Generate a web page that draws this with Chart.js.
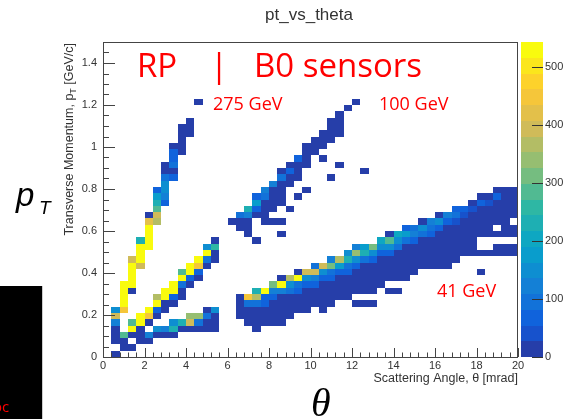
<!DOCTYPE html>
<html>
<head>
<meta charset="utf-8">
<script src="https://cdn.jsdelivr.net/npm/chart.js@4.4.1/dist/chart.umd.min.js"></script>
<style>
  html, body { margin: 0; padding: 0; background: #fff; }
  canvas { display: block; }
</style>
</head>
<body>
<canvas id="ptVsTheta" width="569" height="419"></canvas>
<script>
// pt_vs_theta histogram, 50 x 50 bins
const thetaRange = [0, 20];      // mrad
const ptRange = [0, 1.5];        // GeV/c
const xBinWidth = 0.4;
const yBinWidth = 0.03;
const zMax = 543;
const nLevels = 20;
const zTickValues = [0, 100, 200, 300, 400, 500];

// one char per bin = contour level of the bin content ('.' = empty)
const levelChars = '0123456789abcdefghij';

// [theta bin, first pT bin, levels going up in pT]
const rpCells = [
  [1, 0, '0'], [1, 2, '0004e5'],
  [2, 1, '00a'], [2, 7, 'gjjjj'],
  [3, 1, '0'], [3, 3, '0ja'], [3, 10, '0jjjje'],
  [4, 2, '000jj'], [4, 14, 'ejjj8'],
  [5, 2, '04'], [5, 5, '0gj'], [5, 17, 'jjjjf0'],
  [6, 3, '05'], [6, 6, '02jd'], [6, 21, 'dea862'],
  [7, 3, '04'], [7, 7, '00jj'], [7, 24, '2455300'],
  [8, 3, '085'], [8, 8, '02jj'], [8, 28, '203220'],
  [9, 4, '08'], [9, 9, '003ja'], [9, 32, '00000'],
  [10, 4, '0ec'], [10, 11, '02jj'], [10, 35, '000'],
  [11, 4, '03c'], [11, 12, '02gj'], [11, 40, '0'],
  [12, 4, '0030'], [12, 14, '03j5'],
  [13, 4, '0005'], [13, 15, '0090']
];

const b0Upper = [
  [15, 21, '0'],
  [16, 20, '003'],
  [17, 19, '00048'],
  [18, 18, '0'], [18, 22, '0262'],
  [19, 21, '000034'],
  [20, 21, '0'], [20, 23, '00004'],
  [21, 19, '0'], [21, 21, '0'], [21, 24, '000030'],
  [22, 23, '0'], [22, 27, '0020'],
  [23, 25, '0'], [23, 28, '0002'],
  [24, 26, '0'], [24, 30, '0000'],
  [25, 32, '000'],
  [26, 31, '0'], [26, 33, '000'],
  [27, 28, '0'], [27, 34, '0000'],
  [28, 30, '0'], [28, 35, '0000'],
  [29, 39, '0'],
  [30, 40, '0'],
  [31, 29, '0']
];

const b0Lower = [
  [16, 6, '0000'],
  [17, 5, '0003g'],
  [18, 4, '00003d8'],
  [19, 5, '00022j'],
  [20, 5, '000024b'],
  [21, 5, '000004j0'],
  [22, 6, '000035d'],
  [23, 7, '00023j0'],
  [24, 7, '000025e'],
  [25, 8, '00024e3'],
  [26, 7, '0000025e'],
  [27, 8, '000023b4'],
  [28, 9, '000026d'],
  [29, 9, '00002385'],
  [30, 8, '0'], [30, 10, '000025c4'],
  [31, 8, '0'], [31, 10, '00000386'],
  [32, 8, '0'], [32, 10, '0000025b'],
  [33, 11, '00000257'],
  [34, 10, '0'], [34, 12, '000025a0'],
  [35, 10, '0'], [35, 12, '00000357'],
  [36, 12, '000000362'],
  [37, 13, '00000243'],
  [38, 14, '00000350'],
  [39, 14, '00000234'],
  [40, 14, '000000250'],
  [41, 14, '000000024'],
  [42, 15, '000000132'],
  [43, 16, '00000012'],
  [44, 16, '000000010'],
  [45, 13, '0'], [45, 16, '0'], [45, 19, '0000020'],
  [46, 16, '0'], [46, 19, '0000010'],
  [47, 16, '00'], [47, 19, '0.000020'],
  [48, 16, '00'], [48, 19, '00000000'],
  [49, 16, '00'], [49, 19, '00.00000']
];

// kBird palette
const birdStops = [0, 0.125, 0.25, 0.375, 0.5, 0.625, 0.75, 0.875, 1];
const birdR = [0.2082, 0.0592, 0.0780, 0.0232, 0.1802, 0.5301, 0.8186, 0.9956, 0.9764];
const birdG = [0.1664, 0.3599, 0.5041, 0.6419, 0.7178, 0.7492, 0.7328, 0.7862, 0.9832];
const birdB = [0.5293, 0.8684, 0.8385, 0.7914, 0.6425, 0.4662, 0.3499, 0.1968, 0.0539];

function birdColor(f) {
  let i = 0;
  while (i < birdStops.length - 2 && f > birdStops[i + 1]) i++;
  const t = (f - birdStops[i]) / (birdStops[i + 1] - birdStops[i]);
  const c = arr => Math.round(255 * (arr[i] + (arr[i + 1] - arr[i]) * t));
  return `rgb(${c(birdR)},${c(birdG)},${c(birdB)})`;
}

function levelColor(level) {
  return birdColor((level + 0.99) / nLevels);
}

function colorForCount(count) {
  const level = Math.min(nLevels - 1, Math.floor(count / zMax * nLevels));
  return levelColor(level);
}

const labelFont = 'Liberation Sans, Arial, sans-serif';
const slideFont = 'Open Sans, Lato, sans-serif';
const axisColor = '#333';

function drawCells(chart, list) {
  const { ctx, scales: { x, y } } = chart;
  list.forEach(([ix, k0, levels]) => {
    [...levels].forEach((ch, j) => {
      const lvl = levelChars.indexOf(ch);
      if (lvl < 0) return;
      const count = (lvl + 0.5) * zMax / nLevels;
      const k = k0 + j;
      const l = Math.round(x.getPixelForValue(ix * xBinWidth));
      const r = Math.round(x.getPixelForValue((ix + 1) * xBinWidth));
      const t = Math.round(y.getPixelForValue((k + 1) * yBinWidth));
      const b = Math.round(y.getPixelForValue(k * yBinWidth));
      ctx.fillStyle = colorForCount(count);
      ctx.fillRect(l, t, r - l, b - t);
    });
  });
}

function drawFrameAndTicks(chart) {
  const { ctx, chartArea: a, scales: { x, y } } = chart;
  ctx.save();
  ctx.strokeStyle = '#444';
  ctx.lineWidth = 1;
  ctx.strokeRect(a.left + 0.5, a.top + 0.5, a.right - a.left - 1, a.bottom - a.top);
  ctx.beginPath();
  // theta ticks, inside the frame
  for (let i = 0; i <= 50; i++) {
    const v = i * 0.4;
    const px = Math.round(x.getPixelForValue(v)) + 0.5;
    const len = i % 5 === 0 ? 9 : 4.5;
    ctx.moveTo(px, a.bottom);
    ctx.lineTo(px, a.bottom - len);
  }
  // pT ticks
  for (let i = 0; i <= 30; i++) {
    const v = i * 0.05;
    const py = Math.round(y.getPixelForValue(v)) + 0.5;
    const len = i % 4 === 0 ? 12 : 6;
    ctx.moveTo(a.left, py);
    ctx.lineTo(a.left + len, py);
  }
  ctx.stroke();
  ctx.restore();
}

function drawPalette(chart) {
  const { ctx, scales: { z } } = chart;
  const left = z.left + 3, right = z.left + 25;
  for (let i = 0; i < nLevels; i++) {
    const b = Math.round(z.getPixelForValue(i * zMax / nLevels));
    const t = Math.round(z.getPixelForValue((i + 1) * zMax / nLevels));
    ctx.fillStyle = levelColor(i);
    ctx.fillRect(left, t, right - left, b - t);
  }
  ctx.save();
  ctx.strokeStyle = '#333';
  ctx.lineWidth = 1;
  ctx.beginPath();
  zTickValues.forEach(v => {
    const py = Math.round(z.getPixelForValue(v)) + 0.5;
    ctx.moveTo(right, py);
    ctx.lineTo(right - 11, py);
  });
  ctx.stroke();
  ctx.restore();
}

function drawTexts(chart) {
  const { ctx, chartArea: a } = chart;
  ctx.save();

  // histogram title
  ctx.fillStyle = '#333';
  ctx.font = `17px ${labelFont}`;
  ctx.textAlign = 'center';
  ctx.textBaseline = 'middle';
  ctx.fillText('pt_vs_theta', 309, 15);

  // x axis title
  ctx.font = `12.5px ${labelFont}`;
  ctx.textAlign = 'right';
  ctx.fillText('Scattering Angle, \u03b8 [mrad]', a.right, 379);

  // y axis title with subscript
  ctx.save();
  ctx.translate(70, a.top + 1);
  ctx.rotate(-Math.PI / 2);
  ctx.textAlign = 'left';
  const p1 = 'Transverse Momentum, p', p2 = 'T', p3 = ' [GeV/c]';
  ctx.font = `12.5px ${labelFont}`;
  const w1 = ctx.measureText(p1).width, w3 = ctx.measureText(p3).width;
  ctx.font = `9px ${labelFont}`;
  const w2 = ctx.measureText(p2).width;
  let cx = -(w1 + w2 + w3);
  ctx.font = `12.5px ${labelFont}`;
  ctx.fillText(p1, cx, 0);
  cx += w1;
  ctx.font = `9px ${labelFont}`;
  ctx.fillText(p2, cx, 3.5);
  cx += w2;
  ctx.font = `12.5px ${labelFont}`;
  ctx.fillText(p3, cx, 0);
  ctx.restore();

  // sensor headline and beam energies
  ctx.fillStyle = '#f00';
  ctx.textAlign = 'left';
  ctx.textBaseline = 'alphabetic';
  ctx.font = `33px ${slideFont}`;
  ctx.fillText('RP', 137, 77);
  ctx.fillText('|', 210, 77);
  ctx.fillText('B0 sensors', 254, 77);
  ctx.font = `18px ${slideFont}`;
  ctx.fillText('275 GeV', 213, 110);
  ctx.fillText('100 GeV', 379, 110);
  ctx.fillText('41 GeV', 437, 297);

  // large axis symbols
  ctx.fillStyle = '#000';
  ctx.font = `italic 33px ${labelFont}`;
  ctx.fillText('p', 16, 206);
  ctx.font = `italic 19px ${labelFont}`;
  ctx.fillText('T', 39, 214);
  ctx.font = 'italic 40px Liberation Serif, DejaVu Serif, serif';
  ctx.fillText('\u03b8', 311, 416);

  // dark panel at the lower left
  ctx.fillStyle = '#000';
  ctx.fillRect(0, 286, 42, 133);
  ctx.strokeStyle = '#ccc';
  ctx.beginPath();
  ctx.moveTo(42.5, 286);
  ctx.lineTo(42.5, 419);
  ctx.stroke();
  ctx.fillStyle = '#f00';
  ctx.font = `15px ${slideFont}`;
  ctx.fillText('oc', -7, 412);
  ctx.restore();
}

const histPlugin = {
  id: 'histPlugin',
  beforeDraw(chart) {
    const { ctx } = chart;
    ctx.save();
    ctx.fillStyle = '#fff';
    ctx.fillRect(0, 0, chart.width, chart.height);
    ctx.restore();
  },
  afterDraw(chart) {
    drawCells(chart, rpCells);
    drawCells(chart, b0Upper);
    drawCells(chart, b0Lower);
    drawFrameAndTicks(chart);
    drawPalette(chart);
    drawTexts(chart);
  }
};

const tickFont = { family: labelFont, size: 11 };

const ctx = document.getElementById('ptVsTheta').getContext('2d');
const chart = new Chart(ctx, {
  type: 'scatter',
  data: { datasets: [] },
  options: {
    responsive: false,
    animation: false,
    devicePixelRatio: 1,
    layout: { padding: { top: 42, left: 0, right: 0, bottom: 0 } },
    plugins: { legend: { display: false }, tooltip: { enabled: false } },
    scales: {
      x: {
        type: 'linear',
        position: 'bottom',
        min: thetaRange[0],
        max: thetaRange[1],
        grid: { display: false, drawTicks: false },
        border: { display: false },
        ticks: { stepSize: 2, padding: 2, font: tickFont, color: axisColor, maxRotation: 0, autoSkip: false },
        afterFit: s => { s.height = 62; }
      },
      y: {
        type: 'linear',
        position: 'left',
        min: ptRange[0],
        max: ptRange[1],
        grid: { display: false, drawTicks: false },
        border: { display: false },
        ticks: {
          stepSize: 0.2, padding: 6, font: tickFont, color: axisColor, autoSkip: false,
          callback: v => String(+v.toFixed(2))
        },
        afterBuildTicks: s => { s.ticks = s.ticks.filter(t => t.value <= 1.41); },
        afterFit: s => { s.width = 103; }
      },
      z: {
        type: 'linear',
        axis: 'y',
        position: 'right',
        min: 0,
        max: zMax,
        grid: { display: false, drawTicks: false },
        border: { display: false },
        ticks: { stepSize: 100, padding: 27, font: tickFont, color: axisColor, autoSkip: false },
        afterBuildTicks: s => { s.ticks = s.ticks.filter(t => zTickValues.includes(t.value)); },
        afterFit: s => { s.width = 51; }
      }
    }
  },
  plugins: [histPlugin]
});
</script>
</body>
</html>
